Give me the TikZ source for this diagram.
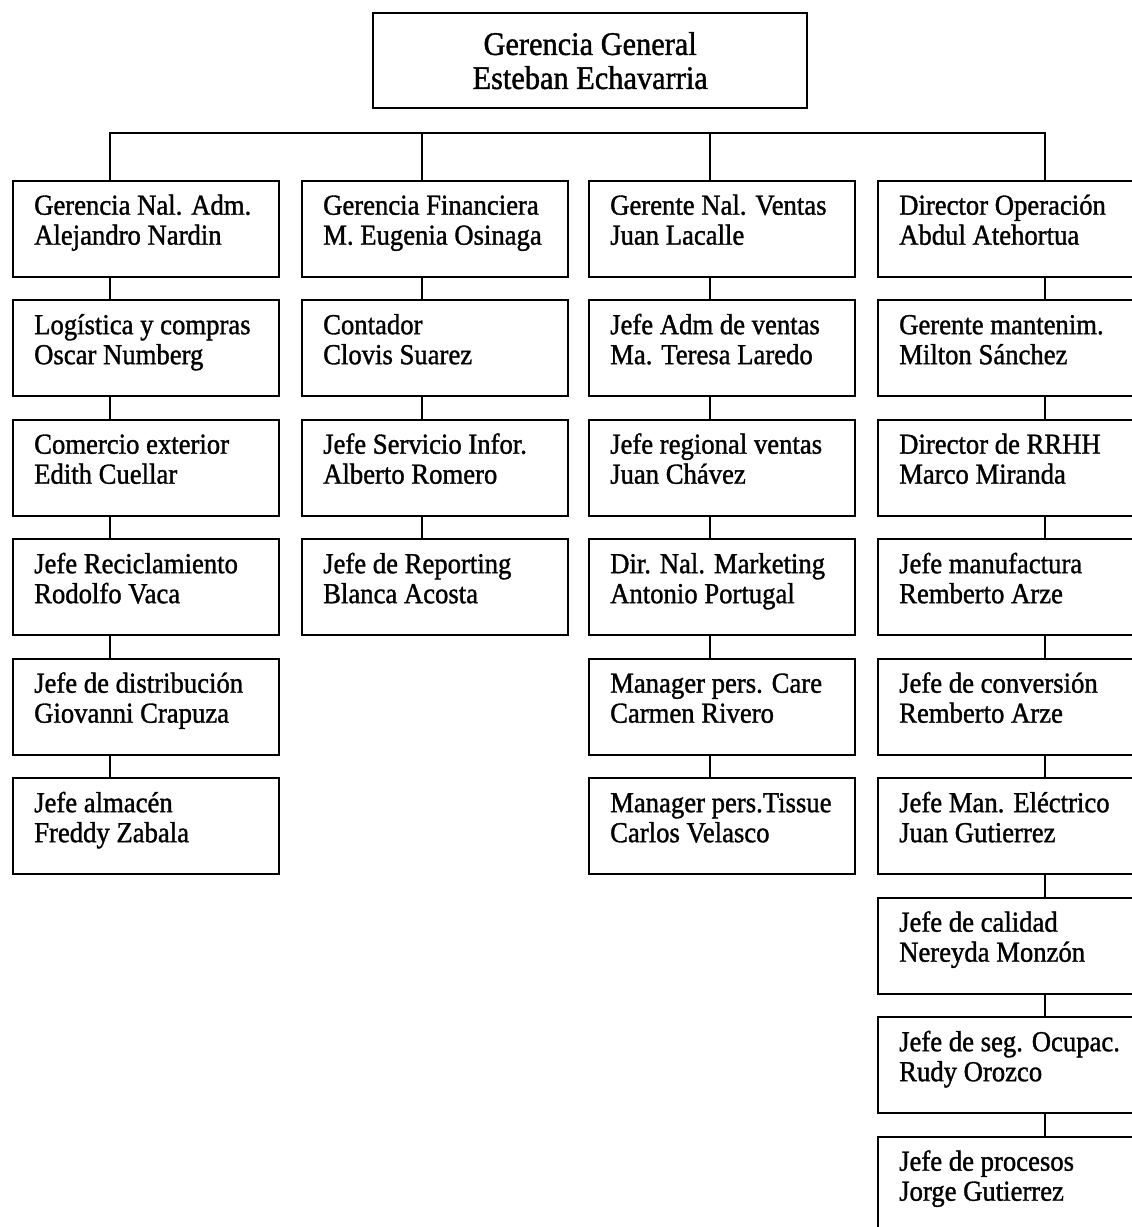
\documentclass[tikz,border=0pt]{standalone}
\usepackage{fontspec}
\setmainfont[FakeStretch=0.92,FakeBold=1.2]{Liberation Serif}
\begin{document}
\begin{tikzpicture}[x=1pt,y=-1pt,
  obox/.style={draw, line width=2.3pt, anchor=north west, minimum width=266pt, minimum height=96pt, inner sep=0pt},
  otext/.style={anchor=north west, inner sep=0pt, align=left, font=\fontsize{29}{30}\selectfont},
  topbox/.style={draw, line width=2.3pt, anchor=north west, minimum width=434pt, minimum height=95pt, inner sep=0pt, align=center, font=\fontsize{33}{34}\selectfont},
  link/.style={line width=2.3pt}]
\newcommand\orgbox[4]{%
  \node[obox] (#1) at (#2,{179.5+119.5*(#3-1)}) {};
  \node[otext] (#1t) at ([shift={(22,14)}]#1.north west) {\rule{0pt}{21pt}#4};}
\useasboundingbox (0,0) rectangle (1132,1227);
\clip (0,0) rectangle (1132,1227);

\node[topbox] (gg) at (372,12) {Gerencia General\\Esteban Echavarria};

% column 1
\orgbox{c1r1}{12}{1}{Gerencia Nal. Adm.\\Alejandro Nardin}
\orgbox{c1r2}{12}{2}{Logística y compras\\Oscar Numberg}
\orgbox{c1r3}{12}{3}{Comercio exterior\\Edith Cuellar}
\orgbox{c1r4}{12}{4}{Jefe Reciclamiento\\Rodolfo Vaca}
\orgbox{c1r5}{12}{5}{Jefe de distribución\\Giovanni Crapuza}
\orgbox{c1r6}{12}{6}{Jefe almacén\\Freddy Zabala}
% column 2
\orgbox{c2r1}{301}{1}{Gerencia Financiera\\M. Eugenia Osinaga}
\orgbox{c2r2}{301}{2}{Contador\\Clovis Suarez}
\orgbox{c2r3}{301}{3}{Jefe Servicio Infor.\\Alberto Romero}
\orgbox{c2r4}{301}{4}{Jefe de Reporting\\Blanca Acosta}
% column 3
\orgbox{c3r1}{588}{1}{Gerente Nal. Ventas\\Juan Lacalle}
\orgbox{c3r2}{588}{2}{Jefe Adm de ventas\\Ma. Teresa Laredo}
\orgbox{c3r3}{588}{3}{Jefe regional ventas\\Juan Chávez}
\orgbox{c3r4}{588}{4}{Dir. Nal. Marketing\\Antonio Portugal}
\orgbox{c3r5}{588}{5}{Manager pers. Care\\Carmen Rivero}
\orgbox{c3r6}{588}{6}{Manager pers.Tissue\\Carlos Velasco}
% column 4
\orgbox{c4r1}{877}{1}{Director Operación\\Abdul Atehortua}
\orgbox{c4r2}{877}{2}{Gerente mantenim.\\Milton Sánchez}
\orgbox{c4r3}{877}{3}{Director de RRHH\\Marco Miranda}
\orgbox{c4r4}{877}{4}{Jefe manufactura\\Remberto Arze}
\orgbox{c4r5}{877}{5}{Jefe de conversión\\Remberto Arze}
\orgbox{c4r6}{877}{6}{Jefe Man. Eléctrico\\Juan Gutierrez}
\orgbox{c4r7}{877}{7}{Jefe de calidad\\Nereyda Monzón}
\orgbox{c4r8}{877}{8}{Jefe de seg. Ocupac.\\Rudy Orozco}
\orgbox{c4r9}{877}{9}{Jefe de procesos\\Jorge Gutierrez}

% connectors
\coordinate (j1) at (110,133);
\coordinate (j2) at (422,133);
\coordinate (j3) at (710,133);
\coordinate (j4) at (1045,133);
\draw[link] (j1 |- c1r1.north) -- (j1) -- (j4) -- (j4 |- c4r1.north);
\draw[link] (j2) -- (j2 |- c2r1.north);
\draw[link] (j3) -- (j3 |- c3r1.north);
\foreach \c/\last in {1/5,2/3,3/5,4/8} {
  \foreach \k in {1,...,\last} {
    \pgfmathtruncatemacro\kk{\k+1}
    \draw[link] (j\c |- c\c r\k.south) -- (j\c |- c\c r\kk.north);
  }
}
\end{tikzpicture}
\end{document}
